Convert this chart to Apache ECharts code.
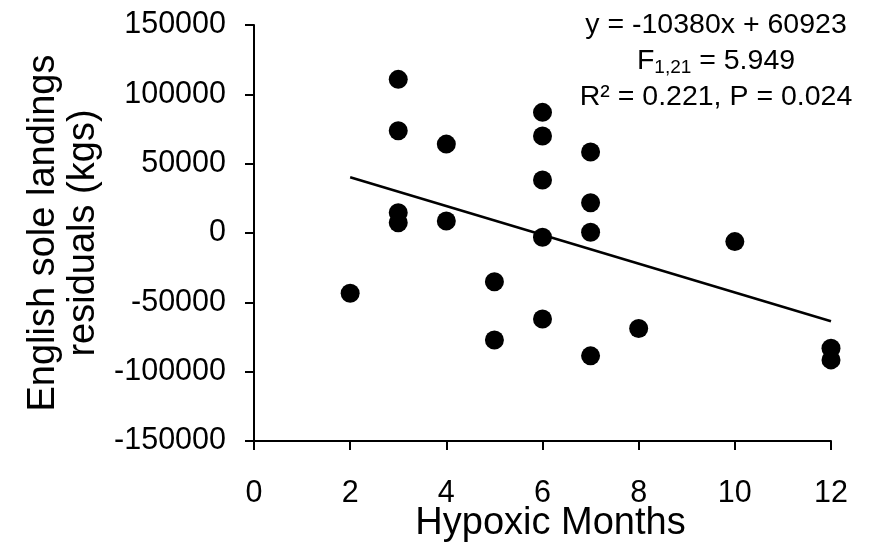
<!DOCTYPE html>
<html>
<head>
<meta charset="utf-8">
<script src="https://cdn.jsdelivr.net/npm/echarts@6/dist/echarts.min.js"></script>
<style>
html,body{margin:0;padding:0;background:#fff;}
#c{width:874px;height:548px;}
</style>
</head>
<body>
<div id="c"></div>
<script>
// Data
const monthsX = [2, 3, 3, 3, 3, 4, 4, 5, 5, 6, 6, 6, 6, 6, 7, 7, 7, 7, 8, 10, 12, 12];
const residualsY = [-43500, 110800, 73700, 14600, 7400, 64100, 8600, -35100, -77100,
                    87000, 69900, 38200, -3100, -62000, 58400, 21800, 500, -88600,
                    -68900, -6200, -83100, -91500];
const trendX = [2, 12];
const trendY = [40163, -63637];
const xTicks = [0, 2, 4, 6, 8, 10, 12];
const yTicks = [-150000, -100000, -50000, 0, 50000, 100000, 150000];
const eqLine = 'y = -10380x + 60923';
const fLine = ['F', '1,21', ' = 5.949'];
const rLine = 'R² = 0.221, P = 0.024';
const xTitle = 'Hypoxic Months';
const yTitle = 'English sole landings\nresiduals (kgs)';

const font = 'Liberation Sans, Arial, sans-serif';
const chart = echarts.init(document.getElementById('c'), null, {renderer: 'canvas'});
const axisCommon = {
  axisLine: {show: true, onZero: false, lineStyle: {color: '#000', width: 2}},
  axisTick: {show: true, length: 9, lineStyle: {color: '#000', width: 2}},
  splitLine: {show: false},
  axisLabel: {color: '#000', fontSize: 30.5, fontFamily: font, formatter: v => String(v)}
};
chart.setOption({
  animation: false,
  backgroundColor: '#fff',
  grid: {left: 254, right: 43, top: 25, bottom: 107, containLabel: false, outerBoundsMode: 'none'},
  xAxis: Object.assign({}, axisCommon, {
    type: 'value', min: xTicks[0], max: xTicks[xTicks.length - 1], interval: 2,
    name: xTitle, nameLocation: 'middle', nameGap: 64, nameMoveOverlap: false,
    nameTextStyle: {color: '#000', fontSize: 38, fontFamily: font, padding: [0, 0, 0, 16]},
    axisLabel: Object.assign({}, axisCommon.axisLabel, {margin: 37})
  }),
  yAxis: Object.assign({}, axisCommon, {
    type: 'value', min: yTicks[0], max: yTicks[yTicks.length - 1], interval: 50000,
    name: yTitle, nameLocation: 'middle', nameGap: 150,
    nameTextStyle: {color: '#000', fontSize: 38, fontFamily: font, lineHeight: 40, align: 'center'},
    axisLabel: Object.assign({}, axisCommon.axisLabel, {margin: 28})
  }),
  series: [
    {
      type: 'line', data: trendX.map((x, i) => [x, trendY[i]]),
      symbol: 'none', lineStyle: {color: '#000', width: 2.5}, z: 2
    },
    {
      type: 'scatter', data: monthsX.map((x, i) => [x, residualsY[i]]),
      symbol: 'circle', symbolSize: 19, itemStyle: {color: '#000', opacity: 1}, z: 3
    }
  ],
  graphic: [
    {type: 'text', position: [716, 25], style: {text: eqLine, font: '28.5px ' + font, fill: '#000', textAlign: 'center', textVerticalAlign: 'middle'}},
    {type: 'text', position: [716, 61], style: {
      text: '{a|' + fLine[0] + '}{s|' + fLine[1] + '}{a|' + fLine[2] + '}',
      textAlign: 'center', textVerticalAlign: 'middle', fill: '#000',
      rich: {a: {fontSize: 28.5, fontFamily: font, fill: '#000', color: '#000'},
             s: {fontSize: 19, fontFamily: font, fill: '#000', color: '#000', padding: [14, 0, 0, 0]}}
    }},
    {type: 'text', position: [716, 97], style: {text: rLine, font: '28.5px ' + font, fill: '#000', textAlign: 'center', textVerticalAlign: 'middle'}}
  ]
});
</script>
</body>
</html>
